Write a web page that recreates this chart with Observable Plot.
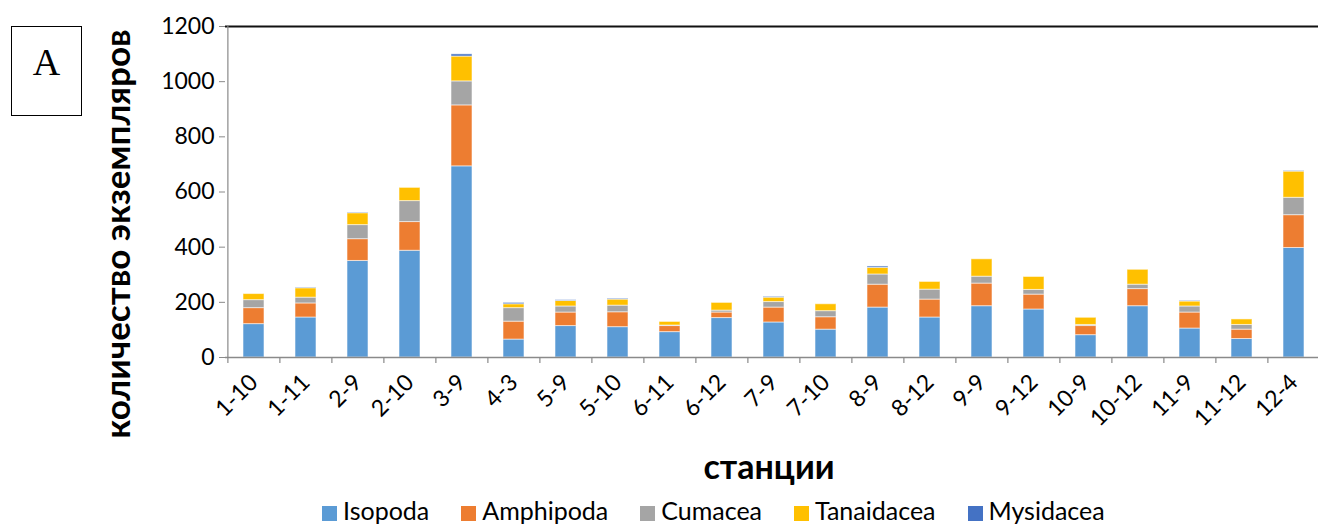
<!DOCTYPE html>
<html><head><meta charset="utf-8">
<script src="https://cdn.jsdelivr.net/npm/d3@7"></script>
<script src="https://cdn.jsdelivr.net/npm/@observablehq/plot@0.6"></script>
<style>
html,body{margin:0;padding:0;background:#fff}
body{width:1318px;height:526px;overflow:hidden;position:relative;font-family:Lato,sans-serif}
#chart{position:absolute;left:0;top:0}
#chart svg{overflow:visible}
#abox{position:absolute;left:11px;top:26px;width:69px;height:88px;border:1.6px solid #000;font-family:"Liberation Serif",serif;font-size:38px;text-align:center;line-height:70px;color:#000}
#legend{position:absolute;left:322px;top:495px;height:30px;line-height:30px;display:flex;align-items:center;font-size:25px;color:#000;white-space:nowrap}
#legend .item{display:flex;align-items:center;margin-right:32px}
#legend .sw{width:15px;height:15px;margin-right:6px;position:relative;top:3px}
</style>
</head><body>
<div id="chart"></div>
<div id="abox">A</div>
<div id="legend"></div>
<script>
const stations = ["1-10","1-11","2-9","2-10","3-9","4-3","5-9","5-10","6-11","6-12","7-9","7-10","8-9","8-12","9-9","9-12","10-9","10-12","11-9","11-12","12-4"];
const seriesNames = ["Isopoda","Amphipoda","Cumacea","Tanaidacea","Mysidacea"];
const seriesColors = ["#5B9BD5","#ED7D31","#A5A5A5","#FFC000","#4472C4"];
const isopoda    = [121,145,350,387,693,65,114,110,92,143,127,101,181,145,186,174,81,186,105,67,397];
const amphipoda  = [58,51,79,104,221,65,49,54,22,20,54,45,83,65,82,54,33,62,58,34,119];
const cumacea    = [29,21,51,76,87,49,22,24,2,7,20,22,37,36,25,17,4,16,22,17,63];
const tanaidacea = [22,34,43,48,90,14,20,22,13,28,16,25,24,28,63,47,26,54,18,20,95];
const mysidacea  = [0,2,2,0,8,5,3,3,0,0,3,0,5,0,0,0,0,0,2,0,2];
const yTicks = [0,200,400,600,800,1000,1200];
const yLabel = "количество экземпляров";
const xLabel = "станции";

const seriesValues = [isopoda, amphipoda, cumacea, tanaidacea, mysidacea];
const data = [];
seriesNames.forEach((s, j) => stations.forEach((st, i) => data.push({station: st, series: s, value: seriesValues[j][i]})));

const W = 1318, H = 490, ML = 225, MR = -4;
const step = (W - MR - ML) / stations.length;

const plot = Plot.plot({
  width: W, height: H,
  marginLeft: ML, marginRight: MR, marginTop: 26, marginBottom: 133,
  style: {fontFamily: "Lato, sans-serif", fontSize: "23px", color: "#000", background: "#fff", overflow: "visible"},
  x: {domain: stations, paddingInner: 0.6, paddingOuter: 0.3, align: 0.5, label: null},
  y: {domain: [0, 1200], label: null},
  color: {domain: seriesNames, range: seriesColors},
  marks: [
    Plot.barY(data, {x: "station", y: "value", fill: "series", stroke: "#fff", strokeWidth: 1, strokeOpacity: 0.55}),
    Plot.ruleY([0], {stroke: "#8a8a8a", strokeWidth: 1.6}),
    Plot.ruleY([1200], {stroke: "#111", strokeWidth: 2}),
    Plot.ruleX([stations[0]], {x: d => d, y1: 0, y2: 1200, dx: -step / 2, stroke: "#8a8a8a", strokeWidth: 1.2}),
    Plot.ruleX(stations, {x: d => d, y1: 0, y2: -22, dx: -step / 2, stroke: "#8a8a8a", strokeWidth: 1.2}),
    Plot.axisY({ticks: yTicks, tickFormat: d3.format("d"), tickSize: 6, tickPadding: 5, stroke: "#8a8a8a", fill: "#000", fontSize: 23, label: null}),
    Plot.axisX({tickSize: 0, tickPadding: 21, tickRotate: -45, fill: "#000", fontSize: 23, dx: 0, label: null}),
    Plot.text([yLabel], {text: d => d, frameAnchor: "left", textAnchor: "middle", rotate: -90, dx: -107, dy: 42, fontSize: 35, fontWeight: "bold", fill: "#000"}),
    Plot.text([xLabel], {text: d => d, frameAnchor: "bottom", dx: -5, dy: 121, fontSize: 34, fontWeight: "bold", fill: "#000"})
  ]
});
document.getElementById("chart").appendChild(plot);

const legend = document.getElementById("legend");
seriesNames.forEach((s, j) => {
  const item = document.createElement("div");
  item.className = "item";
  const sw = document.createElement("div");
  sw.className = "sw";
  sw.style.background = seriesColors[j];
  const t = document.createElement("span");
  t.textContent = s;
  item.appendChild(sw); item.appendChild(t);
  legend.appendChild(item);
});
</script>
</body></html>
